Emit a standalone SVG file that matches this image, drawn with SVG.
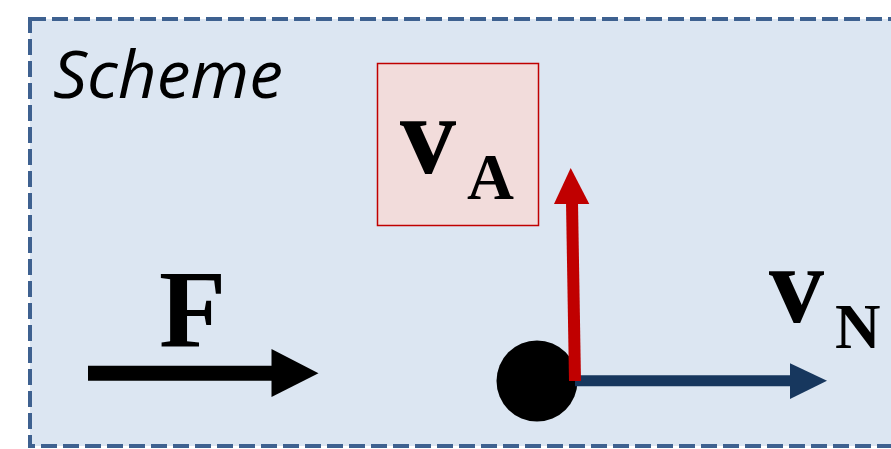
<svg xmlns="http://www.w3.org/2000/svg" width="891" height="449" viewBox="0 0 891 449">
<style>
.serif{font-family:"Liberation Serif","Times New Roman",serif;font-weight:bold;fill:#000}
</style>
<rect width="891" height="449" fill="#ffffff"/>
<g id="frame">
<rect x="30" y="19" width="900" height="427" fill="#dce6f2" stroke="#3e6190" stroke-width="4" stroke-dasharray="16 6"/>
<text x="53" y="98" font-family="'Open Sans','Liberation Sans',sans-serif" font-style="italic" font-size="66" textLength="230" lengthAdjust="spacingAndGlyphs" fill="#000">Scheme</text>
</g>
<g id="label-VA">
<rect x="377.5" y="63.5" width="161" height="162" fill="#f2dcdb" stroke="#c00000" stroke-width="1.5"/>
<text class="serif" x="400" y="173" font-size="112">v</text>
<text class="serif" x="467" y="199" font-size="65">A</text>
</g>
<g id="label-F">
<text class="serif" x="159" y="347" font-size="110">F</text>
</g>
<g id="label-VN">
<text class="serif" x="769" y="322" font-size="110">v</text>
<text class="serif" x="835" y="348" font-size="63">N</text>
</g>
<g id="mass">
<circle cx="537" cy="381" r="40.5" fill="#000"/>
</g>
<g id="connectors">
<line x1="88" y1="373.3" x2="273" y2="373.3" stroke="#000" stroke-width="15"/>
<polygon points="271.5,349 318.5,373.3 271.5,397" fill="#000"/>
<line x1="575" y1="380.7" x2="792" y2="380.7" stroke="#17375e" stroke-width="11"/>
<polygon points="790,363.3 827,380.7 790,399" fill="#17375e"/>
<line x1="575" y1="381" x2="572" y2="202" stroke="#c00000" stroke-width="12"/>
<polygon points="554,204 570.7,168 589.3,204" fill="#c00000"/>
</g>
</svg>
